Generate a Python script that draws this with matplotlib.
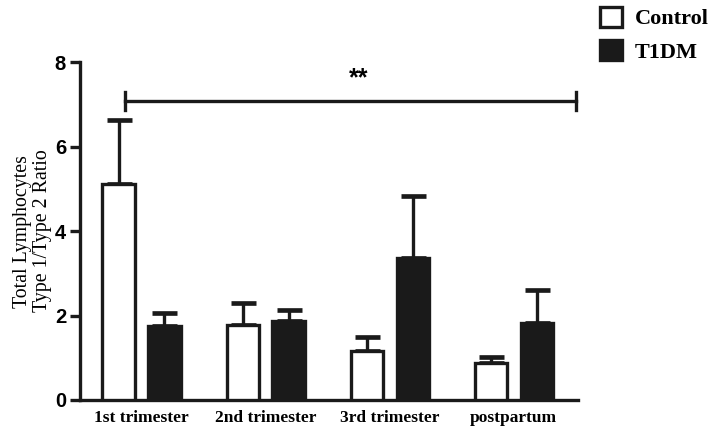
import numpy as np
import matplotlib.pyplot as plt

groups = ["1st trimester", "2nd trimester", "3rd trimester", "postpartum"]
control = [5.12, 1.78, 1.16, 0.87]
control_err = [1.51, 0.52, 0.33, 0.15]
t1dm = [1.75, 1.87, 3.36, 1.83]
t1dm_err = [0.31, 0.26, 1.47, 0.77]

serif = "Liberation Serif"
sans = "Liberation Sans"
ink = "#1a1a1a"

fig = plt.figure(figsize=(7.14, 4.41), dpi=100)
ax = fig.add_axes([0.112, 0.093, 0.698, 0.766])

x = np.arange(len(groups))
w = 0.26
off = 0.185
lw = 2.4

ax.bar(x - off, control, w, color="white", edgecolor=ink, linewidth=lw, label="Control", zorder=3)
ax.bar(x + off, t1dm, w, color=ink, edgecolor=ink, linewidth=lw, label="T1DM", zorder=3)
# upper error bars only
ax.errorbar(x - off, control, yerr=[np.zeros(4), control_err], fmt="none", ecolor=ink,
            elinewidth=lw, capsize=9, capthick=lw * 1.4, zorder=2)
ax.errorbar(x + off, t1dm, yerr=[np.zeros(4), t1dm_err], fmt="none", ecolor=ink,
            elinewidth=lw, capsize=9, capthick=lw * 1.4, zorder=2)

# significance bracket
by = 7.08
ax.plot([-0.133, 3.5], [by, by], color=ink, lw=lw, clip_on=False)
ax.plot([-0.133, -0.133], [by - 0.22, by + 0.22], color=ink, lw=lw, clip_on=False)
ax.plot([3.5, 3.5], [by - 0.22, by + 0.22], color=ink, lw=lw, clip_on=False)
ax.text(1.75, by + 0.25, "**", ha="center", va="bottom", fontsize=18, fontweight="bold", family=sans)

ax.set_xlim(-0.496, 3.52)
ax.set_ylim(0, 8)
ax.set_yticks([0, 2, 4, 6, 8])
ax.set_xticks(x)
ax.set_xticklabels(groups, family=serif, fontweight="bold", fontsize=12.5)
for t in ax.get_yticklabels():
    t.set_family(sans)
    t.set_fontweight("bold")
    t.set_fontsize(14.5)
ax.tick_params(axis="x", length=0, pad=7)
ax.tick_params(axis="y", width=lw, length=7, color=ink, pad=3)
for s in ["top", "right"]:
    ax.spines[s].set_visible(False)
for s in ["left", "bottom"]:
    ax.spines[s].set_linewidth(lw)
    ax.spines[s].set_color(ink)

ax.set_ylabel("Total Lymphocytes\nType 1/Type 2 Ratio", family=serif, fontsize=14.3, labelpad=2,
              linespacing=1.05)

fig.legend(loc="upper right", bbox_to_anchor=(1.02, 1.03), frameon=False,
           prop={"family": serif, "weight": "bold", "size": 16},
           handlelength=1.0, handleheight=1.0, handletextpad=0.55, labelspacing=0.5)

fig.savefig("out.png", dpi=100)
